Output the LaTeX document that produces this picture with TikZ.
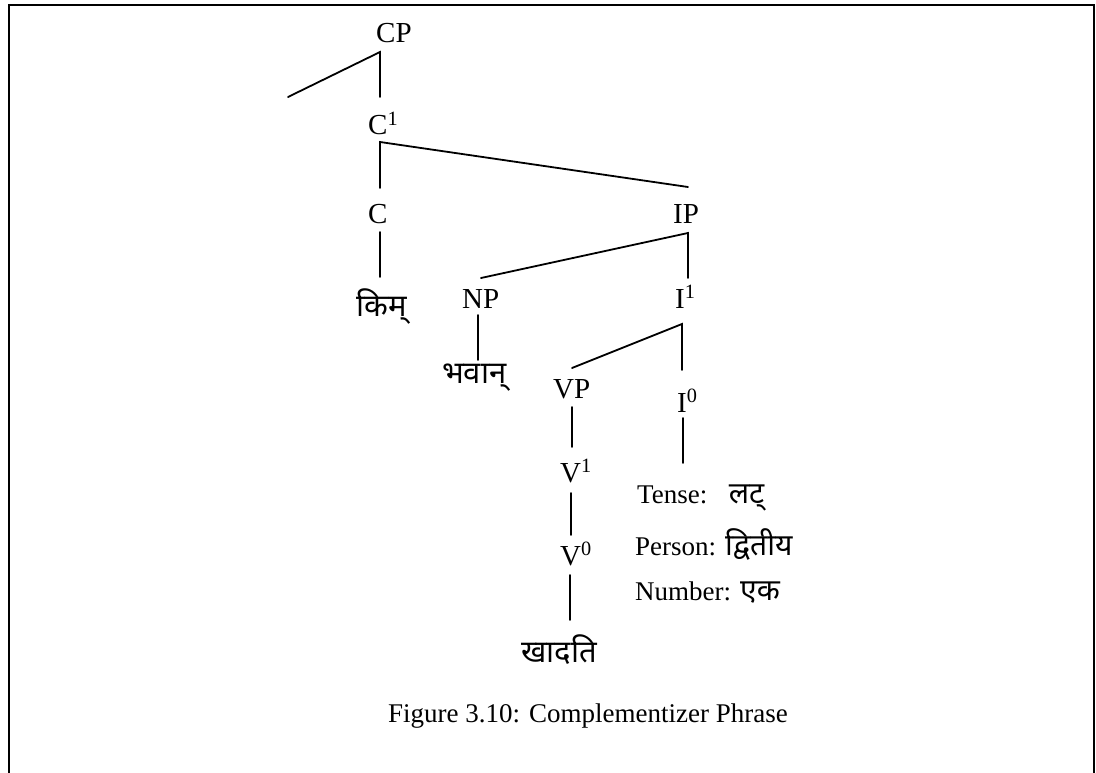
\documentclass[tikz,border=0pt]{standalone}
\usepackage{fontspec}
\setmainfont{Liberation Serif}
\newfontfamily\deva[Script=Devanagari]{Noto Sans}
\begin{document}
\begin{tikzpicture}[x=1pt,y=-1pt,
  lbl/.style={inner sep=0pt,anchor=base west,font=\fontsize{29}{34}\selectfont},
  feat/.style={inner sep=0pt,anchor=base west,font=\fontsize{27}{32}\selectfont},
  dv/.style={inner sep=0pt,anchor=base west,font=\fontsize{31}{36}\deva},
  dvin/.style={font=\fontsize{30}{36}\deva},
  branch/.style={line width=1.8pt,line cap=round},
  frame/.style={line width=2.6pt}]
\useasboundingbox (0,0) rectangle (1096,773);
% outer frame (open at the bottom)
\draw[frame] (9,773) -- (9,5) -- (1094,5) -- (1094,773);

% labels
\node[lbl] (cp)  at (376,43)  {CP};
\node[lbl] (cbar) at (368,135) {C\textsuperscript{1}};
\node[lbl] (c)   at (368,224) {C};
\node[lbl] (ip)  at (673,224) {IP};
\node[dv]  (kim) at (356,316) {किम्};
\node[lbl] (np)  at (462,308) {NP};
\node[lbl] (ibar) at (675,308) {I\textsuperscript{1}};
\node[dv]  (bhavan) at (442,383) {भवान्};
\node[lbl] (vp)  at (553,398) {VP};
\node[lbl] (izero) at (677,412) {I\textsuperscript{0}};
\node[lbl] (vbar) at (560,482) {V\textsuperscript{1}};
\node[lbl] (vzero) at (560,565) {V\textsuperscript{0}};
\node[dv]  (khadati) at (521,662) {खादति};
\node[feat] (tense)  at (637,503) {Tense:\hspace{0.8em}{\fontsize{30}{36}\deva लट्}};
\node[feat] (person) at (635,555) {Person: {\fontsize{30}{36}\deva द्वितीय}};
\node[feat] (number) at (635,600) {Number: {\fontsize{30}{36}\deva एक}};
\node[feat] (cap) at (388,722) {Figure 3.10: Complementizer Phrase};

% branch points
\coordinate (cpA) at (380,52);  \coordinate (cpL) at (288,97);  \coordinate (cpB) at (380,97);
\coordinate (cbA) at (380,142); \coordinate (cbB) at (380,188); \coordinate (cbR) at (688,187);
\coordinate (cT) at (380,232);  \coordinate (cB) at (380,277);
\coordinate (ipA) at (688,233); \coordinate (ipB) at (688,278); \coordinate (ipL) at (481,278);
\coordinate (npT) at (478,315); \coordinate (npB) at (478,360);
\coordinate (ibA) at (682,324); \coordinate (ibB) at (682,370); \coordinate (ibL) at (572,368);
\coordinate (vpT) at (572,407); \coordinate (vpB) at (572,447);
\coordinate (i0T) at (683,418); \coordinate (i0B) at (683,463);
\coordinate (v1T) at (571,493); \coordinate (v1B) at (571,535);
\coordinate (v0T) at (570,575); \coordinate (v0B) at (570,620);

% branches
\draw[branch] (cpL) -- (cpA) -- (cpB);
\draw[branch] (cbB) -- (cbA) -- (cbR);
\draw[branch] (cT) -- (cB);
\draw[branch] (ipL) -- (ipA) -- (ipB);
\draw[branch] (npT) -- (npB);
\draw[branch] (ibL) -- (ibA) -- (ibB);
\draw[branch] (vpT) -- (vpB);
\draw[branch] (i0T) -- (i0B);
\draw[branch] (v1T) -- (v1B);
\draw[branch] (v0T) -- (v0B);
\end{tikzpicture}
\end{document}
